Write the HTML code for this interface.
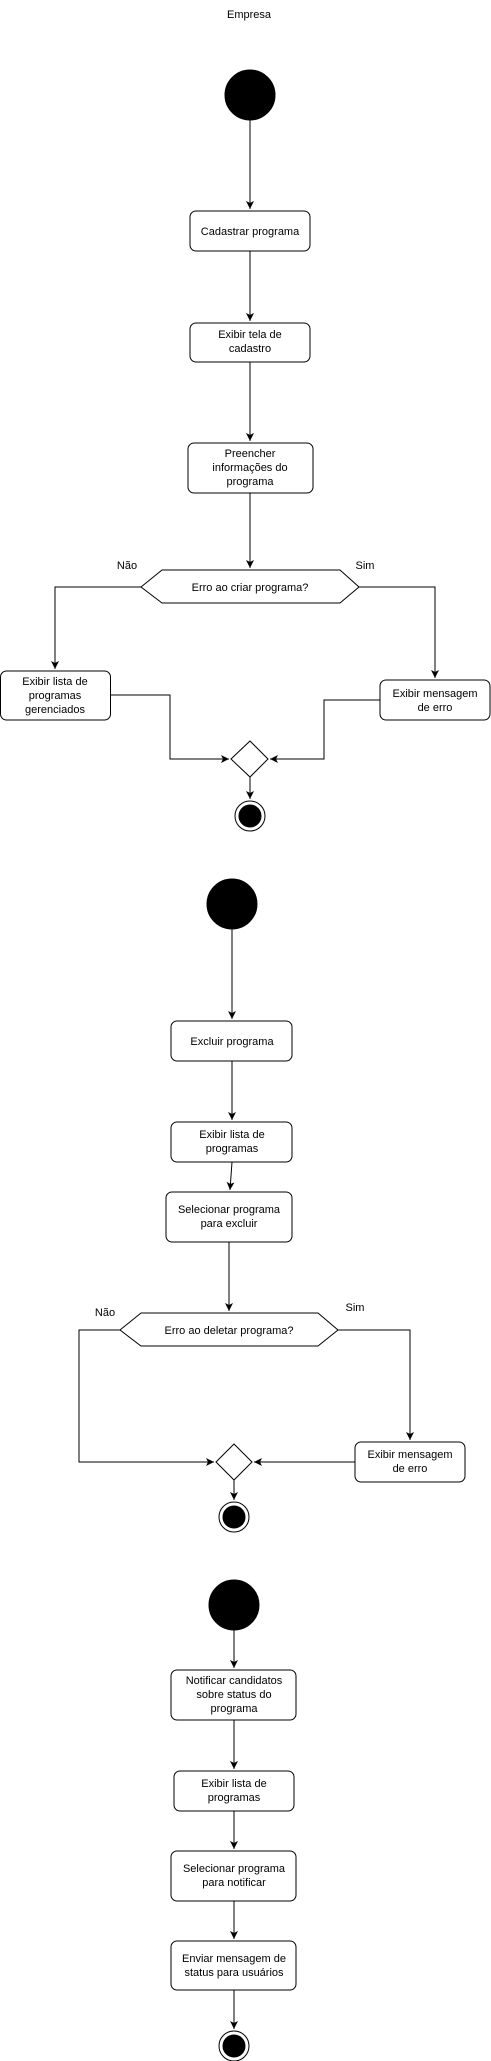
<!DOCTYPE html>
<html><head><meta charset="utf-8"><style>
html,body{margin:0;padding:0;background:#fff}
svg{display:block}
text{font-family:"Liberation Sans",Arial,sans-serif;font-size:11px;fill:#000}
</style></head><body>
<svg width="491" height="2061" viewBox="0 0 491 2061" xmlns="http://www.w3.org/2000/svg">
<defs><marker id="a" markerWidth="10" markerHeight="10" refX="8" refY="4" orient="auto" markerUnits="userSpaceOnUse"><path d="M0,0 L8,4 L0,8 L2,4 Z" fill="#000"/></marker></defs>
<g fill="none" stroke="#000" stroke-width="1">
<text x="249" y="18" text-anchor="middle" stroke="none">Empresa</text>
<circle cx="250" cy="95" r="25" fill="#000"/>
<path d="M250,120 V209" marker-end="url(#a)"/>
<rect x="190" y="211" width="120" height="40" rx="6" fill="#fff"/>
<path d="M250,251 V321" marker-end="url(#a)"/>
<rect x="190" y="323" width="120" height="39" rx="6" fill="#fff"/>
<path d="M250,362 V441" marker-end="url(#a)"/>
<rect x="188" y="443" width="125" height="50" rx="6" fill="#fff"/>
<path d="M250,493 V568" marker-end="url(#a)"/>
<polygon points="141,587 162,570 340,570 359,587 340,603 162,603" fill="#fff"/>
<path d="M141,587 H55 V669" marker-end="url(#a)"/>
<path d="M359,587 H435 V678" marker-end="url(#a)"/>
<rect x="0.5" y="671" width="110" height="49" rx="6" fill="#fff"/>
<rect x="380" y="680" width="110" height="40" rx="6" fill="#fff"/>
<path d="M110,695 H170 V759 H229" marker-end="url(#a)"/>
<path d="M380,700 H324 V759 H270" marker-end="url(#a)"/>
<polygon points="250,741 268,759 250,777 231,759" fill="#fff"/>
<path d="M250,777 V799" marker-end="url(#a)"/>
<circle cx="250" cy="816" r="15" fill="#fff"/>
<circle cx="250" cy="816" r="11" fill="#000"/>
<circle cx="232" cy="904" r="25" fill="#000"/>
<path d="M232,929 V1019" marker-end="url(#a)"/>
<rect x="171" y="1021" width="121" height="40" rx="6" fill="#fff"/>
<path d="M232,1061 V1120" marker-end="url(#a)"/>
<rect x="171" y="1122" width="121" height="40" rx="6" fill="#fff"/>
<path d="M232,1162 L230,1190" marker-end="url(#a)"/>
<rect x="166" y="1192" width="126" height="50" rx="6" fill="#fff"/>
<path d="M229,1242 V1311" marker-end="url(#a)"/>
<polygon points="120,1330 141,1313 318,1313 338,1330 318,1346 141,1346" fill="#fff"/>
<path d="M120,1330 H79 V1462 H214" marker-end="url(#a)"/>
<path d="M338,1330 H410 V1440" marker-end="url(#a)"/>
<rect x="355" y="1442" width="110" height="40" rx="6" fill="#fff"/>
<path d="M355,1462 H254" marker-end="url(#a)"/>
<polygon points="234,1444 252,1462 234,1480 216,1462" fill="#fff"/>
<path d="M234,1480 V1500" marker-end="url(#a)"/>
<circle cx="234" cy="1517" r="15" fill="#fff"/>
<circle cx="234" cy="1517" r="11" fill="#000"/>
<circle cx="234" cy="1605" r="25" fill="#000"/>
<path d="M234,1630 V1668" marker-end="url(#a)"/>
<rect x="171" y="1670" width="125" height="50" rx="6" fill="#fff"/>
<path d="M234,1720 V1769" marker-end="url(#a)"/>
<rect x="174" y="1771" width="120" height="40" rx="6" fill="#fff"/>
<path d="M234,1811 V1849" marker-end="url(#a)"/>
<rect x="171" y="1851" width="125" height="50" rx="6" fill="#fff"/>
<path d="M234,1901 V1939" marker-end="url(#a)"/>
<rect x="171" y="1941" width="125" height="49" rx="6" fill="#fff"/>
<path d="M234,1990 V2029" marker-end="url(#a)"/>
<circle cx="234" cy="2046" r="15" fill="#fff"/>
<circle cx="234" cy="2046" r="11" fill="#000"/>
</g>
<g text-anchor="middle">
<text x="250" y="235">Cadastrar programa</text>
<text x="250" y="338">Exibir tela de</text><text x="250" y="352">cadastro</text>
<text x="250" y="457">Preencher</text><text x="250" y="471">informações do</text><text x="250" y="485">programa</text>
<text x="250" y="591">Erro ao criar programa?</text>
<text x="127" y="569">Não</text><text x="365" y="569">Sim</text>
<text x="55" y="685">Exibir lista de</text><text x="55" y="699">programas</text><text x="55" y="713">gerenciados</text>
<text x="435" y="697">Exibir mensagem</text><text x="435" y="711">de erro</text>
<text x="232" y="1045">Excluir programa</text>
<text x="232" y="1138">Exibir lista de</text><text x="232" y="1152">programas</text>
<text x="229" y="1213">Selecionar programa</text><text x="229" y="1227">para excluir</text>
<text x="229" y="1334">Erro ao deletar programa?</text>
<text x="105" y="1316">Não</text><text x="355" y="1311">Sim</text>
<text x="410" y="1458">Exibir mensagem</text><text x="410" y="1472">de erro</text>
<text x="234" y="1684">Notificar candidatos</text><text x="234" y="1698">sobre status do</text><text x="234" y="1712">programa</text>
<text x="234" y="1787">Exibir lista de</text><text x="234" y="1801">programas</text>
<text x="234" y="1872">Selecionar programa</text><text x="234" y="1886">para notificar</text>
<text x="234" y="1962">Enviar mensagem de</text><text x="234" y="1976">status para usuários</text>
</g>
</svg>
</body></html>
